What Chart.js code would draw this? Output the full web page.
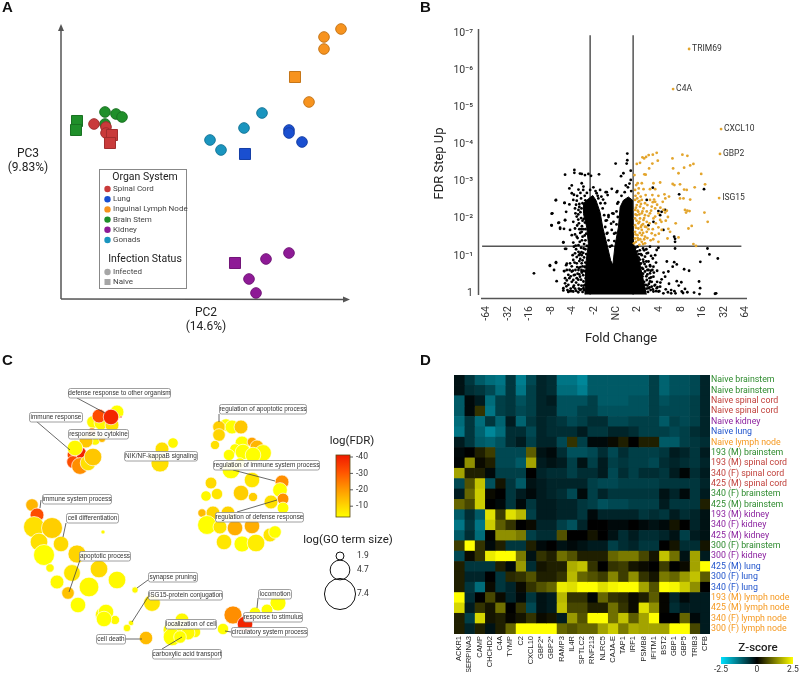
<!DOCTYPE html>
<html>
<head>
<meta charset="utf-8">
<title>Panels A-D</title>
<style>
  body { margin: 0; background: #fff; }
  canvas { position: absolute; left: 0; top: 0; }
</style>
<script src="https://cdn.jsdelivr.net/npm/chart.js@4"></script>
</head>
<body>
<canvas id="pca" width="800" height="674"></canvas>
<canvas id="volcano" width="800" height="674"></canvas>
<canvas id="network" width="800" height="674"></canvas>
<canvas id="heatmap" width="800" height="674"></canvas>
<script>
// A: PCA scores, [PC2, PC3] in plot units
const organNames = ["Spinal Cord", "Lung", "Inguinal Lymph Node", "Brain Stem", "Kidney", "Gonads"]
const organColors = ["#c93a3a", "#1a4fd0", "#f7931e", "#1f8f2a", "#8e1a96", "#1a95bf"]
const infectedScores = [
  [[33, 175], [45, 172], [45, 166]],
  [[228, 169], [228, 166], [241, 157]],
  [[280, 270], [263, 262], [263, 250], [248, 197]],
  [[44, 187], [55, 185], [61, 182], [44, 175]],
  [[228, 46], [205, 40], [188, 20], [195, 6]],
  [[201, 186], [183, 171], [149, 159], [160, 149]]
]
const naiveScores = [
  [[51, 164], [49, 156]],
  [[184, 145]],
  [[234, 222]],
  [[16, 178], [15, 169]],
  [[174, 36]],
  []
]

// B: volcano, x = signed doublings of fold change, y = -log10(FDR)
const foldLabels = ["-64", "-32", "-16", "-8", "-4", "-2", "NC", "2", "4", "8", "16", "32", "64"]
const foldTicks = [-6, -5, -4, -3, -2, -1, 0, 1, 2, 3, 4, 5, 6]
const fdrLabels = ["1", "10⁻¹", "10⁻²", "10⁻³", "10⁻⁴", "10⁻⁵", "10⁻⁶", "10⁻⁷"]
const fdrTicks = [0, 1, 2, 3, 4, 5, 6, 7]
const foldCutoffs = [-1.2, 0.79]
const fdrCutoff = 1.26
const namedGenes = ["TRIM69", "C4A", "CXCL10", "GBP2", "ISG15"]
const namedFold = [3.38, 2.64, 4.86, 4.81, 4.77]
const namedFdr = [6.58, 5.5, 4.42, 3.75, 2.56]
const upGenes = [[1.88,3.78],[1.70,3.73],[1.51,3.72],[1.39,3.67],[1.30,3.63],[1.22,3.66],[1.93,3.57],[1.68,3.49],[1.53,3.36],[1.11,3.51],[0.96,3.48],[2.61,3.63],[3.07,3.73],[3.30,3.70],[3.58,3.48],[3.43,3.44],[3.15,3.38],[2.64,3.36],[2.89,3.23],[3.94,3.21],[0.85,3.18],[1.31,3.20],[1.37,3.19],[2.04,2.98],[1.73,2.96],[1.19,2.96],[1.00,2.96],[0.93,2.91],[1.05,2.82],[1.27,2.80],[1.57,2.80],[1.81,2.80],[2.62,2.94],[2.70,2.91],[2.96,2.93],[3.15,2.79],[3.27,2.78],[3.64,2.85],[4.12,2.93],[0.88,2.78],[1.03,2.69],[1.14,2.60],[1.37,2.64],[1.68,2.64],[1.96,2.62],[2.24,2.66],[2.45,2.60],[2.96,2.55],[3.12,2.55],[3.43,2.52],[0.88,2.51],[1.03,2.46],[1.19,2.51],[1.34,2.42],[1.57,2.51],[1.76,2.52],[1.81,2.46],[2.16,2.46],[2.28,2.55],[0.96,2.37],[1.11,2.33],[1.27,2.28],[1.45,2.37],[1.65,2.33],[1.81,2.28],[2.19,2.24],[2.35,2.22],[3.19,2.24],[3.30,2.22],[3.40,2.21],[4.09,2.17],[3.24,2.17],[0.88,2.24],[1.03,2.19],[1.19,2.15],[1.34,2.10],[1.57,2.15],[1.81,2.06],[1.96,2.15],[2.27,2.17],[0.96,2.10],[1.11,2.01],[1.27,1.97],[1.42,1.92],[1.73,2.01],[1.84,1.88],[2.04,1.97],[2.76,1.88],[4.24,1.92],[3.50,1.81],[3.35,1.74],[1.96,1.77],[2.11,1.70],[2.42,1.73],[2.50,1.65],[0.88,2.01],[1.03,1.88],[1.19,1.83],[1.34,1.79],[0.88,1.83],[1.03,1.74],[1.19,1.70],[1.42,1.65],[1.65,1.61],[1.81,1.56],[2.38,1.47],[2.89,1.50],[1.96,1.38],[0.88,1.65],[0.99,1.56],[1.19,1.56],[1.34,1.52],[0.88,1.47],[1.03,1.43],[1.19,1.38],[0.83,1.34],[3.58,1.32],[3.70,1.27],[1.34,1.34],
  [0.9,2.62],[0.98,2.55],[1.08,2.48],[1.15,2.4],[0.92,2.3],[1.0,2.22],[1.08,2.12],[1.22,2.2],[1.3,2.02],[1.42,2.2],[1.5,2.08],[0.9,2.12],[0.95,1.95],[1.08,1.92],[1.15,1.78],[1.25,1.86],[1.4,1.78],[1.5,1.72],[1.55,1.88],[0.92,1.76],[1.1,1.62],[1.25,1.62],[1.3,1.45],[1.45,1.48],[0.9,1.58],[1.0,1.48],[1.12,1.45],[0.92,1.38],[1.08,1.3],[1.25,1.32],[1.6,1.42],[1.7,1.72],[1.72,1.45],[1.62,2.22],[1.7,2.45],[1.9,2.38],[2.05,2.3],[2.1,1.92],[2.3,1.95],[2.4,2.05],[1.98,1.6]]
const otherGenes = [[0.52,3.76],[-0.02,3.49],[0.52,3.58],[0.49,3.49],[0.34,3.23],[0.23,3.15],[0.68,3.30],[0.06,2.75],[1.70,2.84],[2.92,2.66],[4.07,2.80],[1.42,2.51],[1.96,2.21],[2.11,2.19],[2.04,2.10],[2.27,2.24],[1.73,1.92],[1.50,1.83],[2.69,1.52],[2.73,1.46],[2.19,1.70],[2.73,1.38],[4.23,1.20],[4.32,1.04],[4.71,0.93],[3.90,0.84],[2.73,1.20],[1.96,1.22],[1.88,1.16],[1.57,1.25],[1.81,1.02],[1.70,0.93],[1.57,0.75],[1.73,0.71],[2.69,0.83],[2.81,0.77],[2.62,0.71],[3.15,0.64],[3.38,0.60],[2.42,0.58],[2.27,0.44],[2.11,0.37],[2.81,0.32],[3.02,0.29],[3.84,0.31],[3.89,0.13],[3.61,0.01],[3.86,-0.03],[4.58,-0.02],[4.63,-0.01],[2.55,0.08],[2.55,-0.01],[2.75,-0.01],[3.04,0.04],[3.19,0.11],[1.57,0.53],[1.73,0.44],[1.57,0.31],[1.81,0.22],[2.04,0.17],[1.42,0.35],[1.27,0.22],[1.50,0.13],[1.73,0.04],[1.96,0.04],[2.19,-0.01],[1.34,0.04],[1.19,1.02],[1.27,0.84],[1.39,0.71],[1.42,1.07],[1.34,0.58],[1.19,0.53],[1.65,0.17],[1.88,0.13],[1.50,0.62],[1.34,0.98],[1.30,0.30],[1.45,0.20],[1.60,0.08],[1.20,0.10],[1.40,0.45],[1.55,0.40],[1.25,0.65],[1.40,0.85],[1.15,0.80],[1.10,0.90],[1.85,0.05],[1.30,1.15],[1.25,1.20],[1.10,1.15],[1.00,1.25],[1.05,1.05],
  [-2.36,3.19],[-1.93,3.32],[-1.93,3.24],[-1.67,3.22],[-1.59,3.21],[-1.44,3.18],[-1.28,3.21],[-1.16,3.16],[-0.79,3.20],[-2.05,2.90],[-2.16,2.82],[-2.05,2.69],[-1.74,2.79],[-1.59,2.96],[-1.51,2.87],[-2.78,2.51],[-2.39,2.43],[-2.16,2.39],[-1.98,2.51],[-1.82,2.49],[-0.48,2.72],[-0.74,2.78],[-0.90,2.69],[-2.95,2.15],[-2.31,2.19],[-1.90,2.28],[-1.74,2.24],[-2.64,1.90],[-2.99,1.83],[-2.36,1.97],[-2.59,1.76],[-2.41,1.73],[-2.13,1.70],[-1.98,1.92],[-1.82,2.06],[-1.90,1.74],[-2.05,1.56],[-1.82,1.52],[-1.59,1.65],[-1.98,1.36],[-2.44,1.37],[-2.31,1.19],[-1.74,1.29],[-3.06,0.75],[-2.78,0.83],[-2.87,0.62],[-3.80,0.53],[-2.75,0.32],[-2.31,0.75],[-2.41,0.59],[-2.28,0.62],[-2.13,0.80],[-2.01,1.02],[-1.90,1.07],[-1.74,1.11],[-1.59,1.02],[-1.98,0.89],[-1.82,0.80],[-2.21,0.49],[-2.36,0.40],[-2.16,0.40],[-2.36,0.26],[-2.21,0.22],[-2.44,0.13],[-2.25,0.08],[-2.13,0.05],[-1.98,0.04],[-1.90,0.49],[-1.74,0.62],[-1.59,0.80],[-2.05,0.58],[-1.98,0.35],[-1.82,0.40],[-1.74,0.22],[-1.67,0.08],[-1.51,0.13],[-1.36,0.04],[-1.67,0.44],[-1.59,0.58],[-1.44,0.71],[-1.51,0.31],[-0.35,2.10],[-0.17,2.15],[-0.12,1.92],[-0.20,1.70],[-0.51,2.42],[-0.39,2.64],
  [-0.43,2.72],[-0.20,2.81],[0.03,2.72],[-0.12,2.14],[-0.35,2.05],[-0.23,1.87],[-0.09,1.60],[-0.43,1.60],[-0.20,1.28],[0.06,2.41],[0.34,2.32],[-0.43,1.96],[-2.79,2.50],[-2.98,2.14],[-2.38,2.43],[-2.98,1.82],[-2.67,1.89],[-2.36,1.96],[-2.59,1.73],[-2.44,1.36],[-2.36,1.19],[-1.87,1.28],[-3.06,0.73],[-2.78,0.81],[-2.39,0.59],[-2.28,0.34],[-2.44,0.07],[-2.21,0.03],[-1.98,0.16],[-2.28,0.79],[-1.82,0.97],[-1.67,1.06],
  [-1.45,2.62],[-1.35,2.7],[-1.2,2.78],[-1.05,2.85],[-0.95,2.75],[-0.85,2.62],[-1.62,2.55],[-1.7,2.4],[-1.6,2.28],[-1.75,2.12],[-1.62,2.02],[-1.72,1.88],[-1.58,1.8],[-1.66,1.62],[-1.52,1.72],[-1.45,1.55],[-1.58,1.42],[-1.48,1.32],[-1.62,1.22],[-1.42,1.18],[-1.52,1.08],[-1.66,0.92],[-1.48,0.96],[-1.42,0.82],[-1.55,0.72],[-1.72,0.68],[-1.42,0.58],[-1.52,0.48],[-1.62,0.36],[-1.4,0.4],[-1.78,0.52],[-1.88,0.62],[-1.95,0.48],[-1.85,0.28],[-1.95,0.2],[-1.72,0.12],[-1.6,0.2],[-1.42,0.22],[-1.28,0.15],[-1.55,0.03],[-1.85,0.06],[-1.75,0.02],[-2.05,0.3],[-2.1,0.12],[-2.3,0.18],[-2.15,0.62],[-2.05,0.72],[-1.92,0.82],[-1.7,0.86],[-1.72,1.02],[-1.85,1.18],[-1.95,1.25],[-1.68,1.38],[-1.78,1.48],[-1.9,1.58],[-1.7,1.72],[-1.8,1.82],[-1.75,1.98],[-1.88,2.15],[-1.65,2.18],[-1.7,2.32],[-1.55,2.42],[-1.85,2.38],[-1.95,2.65],[-1.8,2.62],[-1.65,2.7],[-1.52,2.78],[-1.42,2.5],[-0.82,2.55],[-0.72,2.42],[-0.62,2.28],[-0.55,2.1],[-0.48,1.95],[-0.5,1.78],[-0.4,1.62],[-0.35,1.42],[-0.28,1.25],[-0.6,2.52],[-0.68,2.6],
  [-1.5,2.0],[-1.44,1.9],[-1.42,1.72],[-1.38,1.6],[-1.42,1.42],[-1.35,1.27],[-1.38,1.05],[-1.45,0.7],[-1.5,0.6],[-1.58,0.55],[-1.65,0.7],[-1.7,0.5],[-1.6,0.62],[-1.8,0.7],[-1.75,0.36],[-1.62,0.1],[-1.5,0.2],[-1.48,0.08],[-1.9,0.12],[-2.0,0.6],[-2.1,0.45],[-2.05,0.05],[-1.55,0.88],[-1.6,1.1],[-1.5,1.2],[-1.55,1.52],[-1.62,1.72],[-1.55,1.95],
  [0.1,2.45],[0.02,2.2],[0.08,2.05],[0.02,1.85],[-0.02,1.62],[-0.08,1.4],[0.25,2.62],[0.4,2.72],[0.55,2.85],[0.62,2.95],[0.7,2.75],[0.45,2.9],[0.68,3.05],[0.9,1.22],[0.98,1.12],[1.05,0.95],[1.12,0.78],[1.2,0.68],[1.22,0.45],[1.3,0.12],[1.38,0.22],[1.48,0.03],[1.25,0.9],[1.15,1.05],
  [1.55,0.15],[1.65,0.3],[1.7,0.1],[1.45,0.5],[1.6,0.6],[1.75,0.55],[1.9,0.3],[2.0,0.05],[2.05,0.28],[2.3,0.1],[2.4,0.02],[1.5,0.85],[1.62,1.0],[1.4,1.18],[1.48,1.08],[1.85,0.82],[1.9,0.6],[2.2,0.55],[2.45,0.25],[2.7,0.05],[2.9,0.2],[3.1,0.0],[3.3,0.02],[2.35,0.85],
  [1.42,0.12],[1.52,0.25],[1.62,0.42],[1.45,0.62],[1.32,0.78],[1.58,0.72],[1.78,0.2],[1.92,0.16],[1.68,0.62],[1.25,0.52]]
// too many overlapping genes to read one by one: outline of the solid black V
const denseOutline = [[-1.44,-0.04],[-1.42,0.43],[-1.38,0.88],[-1.28,1.33],[-1.36,1.78],[-1.51,2.14],[-1.51,2.41],[-1.28,2.54],[-1.08,2.63],[-0.93,2.50],[-0.74,2.18],[-0.62,1.78],[-0.43,1.33],[-0.25,0.88],[-0.15,0.75],[-0.05,1.28],[0.11,1.78],[0.19,2.32],[0.34,2.50],[0.57,2.59],[0.77,2.50],[0.80,1.33],[1.03,0.97],[1.2,0.52],[1.4,-0.04]]

// C: GO term network, layout position, log(term size), log(FDR)
const goX = [93,117,101,112,92,99,111,121,95,102,80,72,73,86,75,80,88,93,152,162,173,160,32,37,34,52,39,44,61,77,50,72,99,57,68,89,117,78,103,135,131,127,152,115,103,106,104,146,170,182,195,177,188,172,180,226,219,219,232,241,215,242,252,257,235,263,243,229,253,231,240,252,282,280,283,271,283,211,206,217,241,253,202,213,228,207,220,235,252,224,242,256,270,275,278,267,255,233,245,223]
const goY = [422,412,423,425,432,416,417,417,440,439,453,455,462,441,448,466,463,457,457,449,443,463,505,515,527,528,542,555,544,554,568,573,569,582,593,587,580,605,532,590,623,628,603,620,615,612,619,638,630,620,632,628,633,637,637,425,427,435,427,427,445,443,442,447,449,453,452,455,455,470,463,480,482,490,499,502,508,483,496,494,493,497,513,513,513,525,527,528,526,542,544,543,535,532,603,610,613,615,624,629]
const goSize = [3,3.3,3.3,3.3,2,3.3,3.7,0.5,2.5,1.7,3,2.3,3,3.3,3.7,4,3.7,4.2,1.7,3.3,2.5,4.3,3,3.3,5,5,4.2,5,3.7,4.3,2,4,4.2,3.3,3,4.7,4.2,3.7,1,1.5,1.3,1.8,4,2.2,3.7,3.7,3.7,3.2,3.3,3.3,2.7,3.7,3.3,4.2,3,3,3,3,3.3,3.3,2.2,3.3,2.3,3.3,2.5,4,3.7,2.7,3.7,4.2,2.5,3.7,3.3,3.5,2.8,3.3,2.8,2.8,2.5,2.7,3.7,2.2,2,3.3,3.3,4.5,3.3,3.7,3.7,3.7,3.8,4.2,3.3,3,3.8,2.8,2.8,4.3,3.7,2.7]
const goFdr = [-4,-3,-4,-8,-21,-31,-38,-38,-4,-14,-38,-31,-31,-12,-4,-21,-8,-12,-8,-8,-4,-8,-15,-31,-8,-11,-8,-3,-9,-10,-4,-7,-9,-4,-13,-4,-4,-3,-4,-4,-4,-4,-7,-4,-4,-3,-3,-14,-4,-4,-4,-3,-4,-3,-3,-3,-11,-10,-3,-12,-8,-3,-18,-15,-3,-4,-3,-3,-3,-3,-3,-7,-21,-3,-21,-8,-3,-9,-4,-7,-11,-11,-14,-10,-10,-3,-7,-16,-16,-7,-3,-6,-7,-3,-3,-3,-3,-21,-38,-3]
const legendSizes = [1.9, 4.7, 7.4]
const legendSizeX = [340, 340, 340]
const legendSizeY = [556, 570, 594]
const fdrStops = [-3, -10, -20, -30, -40]
const fdrStopColors = [[255, 255, 0], [255, 212, 0], [255, 149, 0], [255, 82, 0], [240, 26, 0]]
const fdrBarTicks = [-40, -30, -20, -10]
const goTerms = [
  ["defense response to other organism", 68, 388, 102, 77, 398, 105, 413],
  ["immune response", 29, 412, 53, 36, 421, 70, 450],
  ["response to cytokine", 68, 429, 60],
  ["NIK/NF-kappaB signaling", 124, 451, 73],
  ["immune system process", 42, 494, 69, 41, 500, 40, 508],
  ["cell differentiation", 66, 513, 52, 66, 523, 63, 537],
  ["apoptotic process", 79, 551, 51, 80, 560, 69, 592],
  ["synapse pruning", 148, 572, 49, 148, 580, 137, 588],
  ["ISG15-protein conjugation", 148, 590, 74, 148, 597, 132, 622],
  ["localization of cell", 165, 619, 51],
  ["cell death", 96, 634, 29, 125, 639, 142, 639],
  ["carboxylic acid transport", 152, 649, 69, 162, 649, 182, 637],
  ["regulation of apoptotic process", 219, 404, 87, 219, 414, 219, 422],
  ["regulation of immune system process", 213, 460, 106, 233, 470, 275, 481],
  ["regulation of defense response", 215, 512, 88, 237, 512, 277, 500],
  ["locomotion", 258, 589, 33, 258, 598, 257, 608],
  ["response to stimulus", 243, 612, 59],
  ["circulatory system process", 231, 627, 76, 231, 632, 225, 631]
]

// D: heatmap, rows top to bottom, columns left to right
const geneNames = ["ACKR1", "SERPINA3", "CAMP", "CHCHD2", "C4A", "TYMP", "C2", "CXCL10", "GBP2*", "GBP2*", "RAMP3", "IL4R", "SPTLC2", "RNF213", "NLRC5", "CAJA-E", "TAP1", "IRF1", "PSMB8", "IFITM1", "BST2", "GBP1", "GBP5", "TRIB3", "CFB"]
const sampleNames = ["Naive brainstem", "Naive brainstem", "Naive spinal cord", "Naive spinal cord", "Naive kidney", "Naive lung", "Naive lymph node", "193 (M) brainstem", "193 (M) spinal cord", "340 (F) spinal cord", "425 (M) spinal cord", "340 (F) brainstem", "425 (M) brainstem", "193 (M) kidney", "340 (F) kidney", "425 (M) kidney", "300 (F) brainstem", "300 (F) kidney", "425 (M) lung", "300 (F) lung", "340 (F) lung", "193 (M) lymph node", "425 (M) lymph node", "340 (F) lymph node", "300 (F) lymph node"]
const sampleTissue = [3, 3, 0, 0, 4, 1, 2, 3, 0, 0, 0, 3, 3, 4, 4, 4, 3, 4, 1, 1, 1, 2, 2, 2, 2]
const zScores = [
  [-0.2,-0.6,-1.0,-1.2,-1.3,-0.6,-1.4,-0.8,-0.4,-0.5,-1.3,-1.3,-1.5,-1.0,-1.0,-1.0,-1.0,-1.0,-1.0,-0.7,-1.1,-0.9,-0.9,-0.8,-0.4],
  [-0.2,-0.5,-0.6,-0.8,-1.2,-0.6,-1.3,-0.7,-0.4,-0.5,-1.2,-1.2,-1.4,-1.0,-1.0,-1.0,-1.0,-1.0,-1.0,-0.7,-1.1,-0.9,-0.9,-0.8,-0.4],
  [-1.0,-0.1,-0.3,-1.2,-0.7,-0.6,-0.9,-0.7,-0.4,-0.3,-0.9,-0.9,-0.9,-0.7,-1.0,-1.0,-1.0,-0.9,-0.9,-0.7,-0.9,-0.8,-0.8,-0.7,-0.4],
  [-1.0,-0.1,0.5,-1.3,-0.7,-0.6,-0.8,-0.7,-0.4,-0.4,-0.9,-0.9,-0.7,-0.7,-0.9,-0.9,-0.9,-0.9,-0.9,-0.7,-0.8,-0.8,-0.8,-0.7,-0.4],
  [-1.2,-0.6,-1.2,-0.6,-1.1,-0.3,-1.1,-0.6,-0.4,-0.5,-0.6,-0.8,-0.7,-0.5,-0.5,-0.8,-0.8,-0.7,-0.7,-0.7,-1.0,-0.7,-0.8,-0.7,-0.4],
  [-1.3,-0.6,-1.1,-1.5,-1.2,-0.5,-0.5,-0.8,-0.4,-0.5,-0.5,-0.5,-0.3,-0.6,-0.6,-0.4,-0.4,-0.5,-0.7,-0.7,-0.7,-0.8,-0.7,-0.5,-0.4],
  [-0.3,-0.6,-1.0,-1.1,-0.9,-0.5,-0.3,-0.7,-0.4,-0.4,-0.8,0.5,-0.7,-0.1,-0.1,0.1,0.3,0,0.3,0.3,-1.0,-1.0,-0.7,-0.6,-0.5],
  [-0.1,0,0.3,0.6,-0.8,-0.8,-0.8,0.9,-0.2,-0.1,-0.5,-0.9,-0.9,-0.8,-0.5,-0.8,-0.5,-0.7,-0.7,-0.7,-0.6,-0.3,-0.4,-0.6,-0.3],
  [-0.05,1.4,0.1,0.3,-0.8,-0.8,-1.0,1.6,-0.3,-0.2,-0.3,-0.7,-0.2,-0.7,-0.3,-0.7,-0.6,-0.7,-0.7,-0.8,-0.5,-0.4,-0.5,-0.6,-0.4],
  [1.6,0.3,0.3,-0.1,-0.7,-0.7,-0.7,0,-0.4,-0.5,-0.5,-0.7,-0.5,-0.5,-0.3,-0.8,-0.5,-0.7,-0.5,-0.5,-0.6,-0.3,-0.05,-0.5,-0.3],
  [-0.8,0.8,1.9,-0.9,0.2,-0.6,-1.0,-0.2,-0.3,-0.4,-0.4,-0.4,-0.4,-0.7,-0.8,-0.8,-0.7,-0.7,-0.7,-0.7,-0.6,-0.6,-0.6,-0.6,-0.4],
  [-0.3,1.0,2.0,0.1,0,-0.6,-0.3,-0.1,-0.3,-0.4,-0.5,-0.8,-0.1,-0.7,-0.4,-0.6,-0.6,-0.6,-0.6,-0.6,-0.2,-0.4,-0.1,-0.6,-0.3],
  [1.0,0.7,2.0,0,-0.1,-0.6,-0.1,-0.6,-0.3,-0.3,-0.4,-0.4,-0.6,-0.7,-0.9,-0.8,-0.8,-0.7,-0.7,-0.7,-0.3,-0.6,-0.6,-0.6,0.3],
  [-1.0,-0.5,-1.0,2.2,0.6,2.2,1.8,-0.7,-0.3,-0.3,-0.4,-0.4,-0.6,-0.1,-0.4,-0.4,-0.4,-0.4,-0.6,-0.5,-0.6,-0.3,-0.5,-0.4,-0.2],
  [-1.3,-0.6,-1.3,2.0,0.9,0.5,0,0.1,-0.4,-0.4,-0.7,-0.9,-0.4,0,0,-0.1,-0.1,0,-0.1,-0.2,-0.1,0.2,0,-0.4,-0.2],
  [-1.0,-0.5,-1.2,0,1.4,1.4,1.2,-0.7,-0.5,-0.5,0.8,0,0,0.2,0,-0.2,-0.5,-0.3,-0.5,-0.5,-0.4,-0.2,-0.7,-0.3,-0.2],
  [0.6,2.5,0.5,-0.1,0.3,-0.6,-0.6,0.3,-0.1,0,-0.2,-0.1,-0.2,-0.3,-0.3,-0.7,-0.5,-0.4,-0.6,-0.6,0,0.2,-0.5,-0.5,0.2],
  [-0.8,0.1,0.5,2.3,2.5,2.5,1.2,-0.2,0.5,0.3,1.1,0.8,0.3,0.3,0.3,1.0,1.2,1.2,0.7,0.2,1.9,1.1,-0.2,1.6,-0.3],
  [0.3,-0.6,-0.6,-0.6,0.3,-0.1,1.5,-0.5,0.2,0.3,0.3,1.7,1.9,0.5,0,0.5,0.6,0.2,0.1,0,0.6,0,0.1,1.6,2.5],
  [0.3,-0.4,-0.4,0,-0.6,0.4,0.5,0.8,0.3,0.3,0.5,1.8,1.0,0.8,0.6,1.3,0.6,1.4,0.5,0.2,1.2,1.0,1.5,1.9,0.9],
  [0.3,-0.6,-1.2,0.1,-0.6,-0.4,0.1,0.5,0.8,1.0,2.3,2.2,2.5,2.5,2.2,2.4,2.5,2.5,1.6,0.8,2.5,2.4,2.0,1.4,0],
  [2.5,-0.5,0,0.7,0.1,-0.4,-0.1,-0.6,-0.2,-0.3,1.8,0.5,0.5,-0.05,1.0,0.5,0.4,0.1,0.3,0.9,0.05,-0.4,-0.1,-0.3,-0.3],
  [2.1,-0.3,0.5,0.2,1.1,0,0.5,-0.8,-0.2,-0.3,1.9,0.7,0.7,0.3,0.3,1.1,0.5,0.1,2.2,1.4,0.05,-0.5,-0.3,-0.3,-0.3],
  [0.3,-0.7,2.1,0.2,0.3,0.05,0.2,0.5,0.1,0.2,-0.3,1.5,0.8,2.5,2.5,1.1,1.9,0.9,1.6,2.5,0,0,1.0,-0.1,-0.3],
  [0.3,-0.4,0.3,-0.2,0.3,1.0,2.5,2.5,2.5,2.5,1.0,0.8,1.0,1.0,1.6,2.0,1.2,1.7,1.6,1.6,1.6,2.5,2.5,0.7,-0.3]
]

const ROBOTO = "Roboto, sans-serif"
const ARIAL = "'Liberation Sans', sans-serif"

const label = (ctx, str, x, y, font, color = "#222", align = "center") => {
  ctx.font = font
  ctx.fillStyle = color
  ctx.textAlign = align
  ctx.textBaseline = "middle"
  ctx.fillText(str, x, y)
}

const line = (ctx, x1, y1, x2, y2, color = "#555", width = 1.5) => {
  ctx.strokeStyle = color
  ctx.lineWidth = width
  ctx.beginPath()
  ctx.moveTo(x1, y1)
  ctx.lineTo(x2, y2)
  ctx.stroke()
}

const arrowHead = (ctx, x1, y1, x2, y2, x3, y3) => {
  ctx.fillStyle = "#555"
  ctx.beginPath()
  ctx.moveTo(x1, y1)
  ctx.lineTo(x2, y2)
  ctx.lineTo(x3, y3)
  ctx.fill()
}

const panelLetter = (ctx, letter, x, y) => label(ctx, letter, x, y, `bold 15px ${ARIAL}`, "#111", "left")

const baseOptions = (padding) => ({
  responsive: false,
  animation: false,
  layout: { padding, autoPadding: false },
  plugins: { legend: { display: false }, tooltip: { enabled: false } }
})

const darker = (hex) => `color-mix(in srgb, ${hex} 80%, black)`

// Panel A
const pcaDatasets = organColors.flatMap((color, i) => [
  { data: naiveScores[i].map(([x, y]) => ({ x, y })), clip: false, pointStyle: "rect", pointRadius: 7.8, backgroundColor: color, borderColor: darker(color), borderWidth: 1 },
  { data: infectedScores[i].map(([x, y]) => ({ x, y })), clip: false, pointStyle: "circle", pointRadius: 5.3, backgroundColor: color, borderColor: darker(color), borderWidth: 1 }
])

const pcaDecor = {
  id: "pcaDecor",
  afterDraw: ({ ctx }) => {
    panelLetter(ctx, "A", 2, 8)
    line(ctx, 61, 299, 61, 30)
    arrowHead(ctx, 61, 24, 58, 31, 64, 31)
    line(ctx, 61, 299, 344, 299.5)
    arrowHead(ctx, 350, 299.5, 343, 296.5, 343, 302.5)
    label(ctx, "PC3", 28, 154, `12px ${ROBOTO}`)
    label(ctx, "(9.83%)", 28, 168, `12px ${ROBOTO}`)
    label(ctx, "PC2", 206, 313, `12px ${ROBOTO}`)
    label(ctx, "(14.6%)", 206, 327, `12px ${ROBOTO}`)

    ctx.strokeStyle = "#888"
    ctx.lineWidth = 1
    ctx.strokeRect(99.5, 169.5, 87, 119)
    label(ctx, "Organ System", 145, 177, `10.5px ${ROBOTO}`)
    organNames.forEach((name, i) => {
      const y = 189 + i * 10.2
      ctx.fillStyle = organColors[i]
      ctx.beginPath()
      ctx.arc(107.5, y, 3.2, 0, Math.PI * 2)
      ctx.fill()
      label(ctx, name, 113, y, `8px ${ROBOTO}`, "#444", "left")
    })
    label(ctx, "Infection Status", 145, 259, `10.5px ${ROBOTO}`)
    ctx.fillStyle = "#a6a6a6"
    ctx.beginPath()
    ctx.arc(107.5, 272, 3.2, 0, Math.PI * 2)
    ctx.fill()
    ctx.fillRect(104.5, 279, 6, 6)
    label(ctx, "Infected", 113, 272, `8px ${ROBOTO}`, "#444", "left")
    label(ctx, "Naive", 113, 282, `8px ${ROBOTO}`, "#444", "left")
  }
}

new Chart(document.getElementById("pca"), {
  type: "scatter",
  data: { datasets: pcaDatasets },
  options: {
    ...baseOptions({ left: 61, right: 451, top: 25, bottom: 375 }),
    scales: {
      x: { display: false, min: 0, max: 288 },
      y: { display: false, min: 0, max: 274 }
    }
  },
  plugins: [pcaDecor]
})

// Panel B
const toPoints = (pairs) => pairs.map(([x, y]) => ({ x, y }))
const cutoffLine = { showLine: true, borderColor: "#555", borderWidth: 1.5, pointRadius: 0 }

const volcanoDecor = {
  id: "volcanoDecor",
  afterDraw: (chart) => {
    const { ctx } = chart
    panelLetter(ctx, "B", 420, 8)
    line(ctx, 478.5, 29, 478.5, 295)
    line(ctx, 481, 298.5, 747, 298.5)
    label(ctx, "Fold Change", 621, 339, `13px ${ROBOTO}`)
    chart.getDatasetMeta(0).data.forEach((point, i) => {
      label(ctx, namedGenes[i], point.x + 3, point.y, `8.5px ${ROBOTO}`, "#333", "left")
    })
  }
}

new Chart(document.getElementById("volcano"), {
  type: "scatter",
  data: {
    datasets: [
      { data: namedGenes.map((_, i) => ({ x: namedFold[i], y: namedFdr[i] })), pointRadius: 1.4, pointBorderWidth: 0, backgroundColor: "#e3a52d" },
      { data: toPoints(upGenes), pointRadius: 1.4, pointBorderWidth: 0, backgroundColor: "#e3a52d" },
      { data: toPoints(otherGenes), pointRadius: 1.4, pointBorderWidth: 0, backgroundColor: "#000" },
      { data: toPoints(denseOutline), showLine: true, fill: "shape", pointRadius: 0, borderColor: "#000", borderWidth: 1, backgroundColor: "#000" },
      { ...cutoffLine, data: [{ x: foldCutoffs[0], y: 6.95 }, { x: foldCutoffs[0], y: -0.05 }] },
      { ...cutoffLine, data: [{ x: foldCutoffs[1], y: 6.95 }, { x: foldCutoffs[1], y: -0.05 }] },
      { ...cutoffLine, data: [{ x: -6.2, y: fdrCutoff }, { x: 5.8, y: fdrCutoff }] }
    ]
  },
  options: {
    ...baseOptions({ left: 432, right: 53, top: 29, bottom: 325 }),
    scales: {
      x: {
        min: -6.39,
        max: 6.06,
        grid: { display: false, drawTicks: false },
        border: { display: false },
        afterFit: (scale) => { scale.height = 51 },
        afterBuildTicks: (scale) => { scale.ticks = foldTicks.map((value) => ({ value })) },
        ticks: {
          autoSkip: false,
          minRotation: 90,
          maxRotation: 90,
          padding: 8,
          color: "#333",
          font: { family: ROBOTO, size: 10.5 },
          callback: (value, index) => foldLabels[index]
        }
      },
      y: {
        min: -0.135,
        max: 7.12,
        grid: { display: false, drawTicks: false },
        border: { display: false },
        afterFit: (scale) => { scale.width = 46 },
        afterBuildTicks: (scale) => { scale.ticks = fdrTicks.map((value) => ({ value })) },
        ticks: {
          autoSkip: false,
          padding: 5,
          color: "#333",
          font: { family: ROBOTO, size: 10.5 },
          callback: (value, index) => fdrLabels[index]
        },
        title: { display: true, text: "FDR Step Up", color: "#222", padding: 0, font: { family: ROBOTO, size: 13 } }
      }
    }
  },
  plugins: [volcanoDecor]
})

// Panel C
const fdrColor = (value) => {
  const v = Math.min(-3, Math.max(-40, value))
  let i = 0
  while (i < fdrStops.length - 2 && v < fdrStops[i + 1]) i++
  const t = (fdrStops[i] - v) / (fdrStops[i] - fdrStops[i + 1])
  const mix = fdrStopColors[i].map((c, k) => Math.round(c + (fdrStopColors[i + 1][k] - c) * t))
  return `rgb(${mix.join(",")})`
}
const sizeToRadius = (size) => size * 2.1

const networkDecor = {
  id: "networkDecor",
  afterDraw: ({ ctx }) => {
    panelLetter(ctx, "C", 2, 361)
    goTerms.forEach(([text, x, y, w, x1, y1, x2, y2]) => {
      if (x1 !== undefined) line(ctx, x1, y1, x2, y2, "#444", 0.8)
      ctx.beginPath()
      ctx.roundRect(x + 0.5, y + 0.5, w, 9.5, 2)
      ctx.fillStyle = "rgba(255,255,255,0.92)"
      ctx.fill()
      ctx.strokeStyle = "#888"
      ctx.lineWidth = 0.8
      ctx.stroke()
      label(ctx, text, x + 0.5 + w / 2, y + 5.5, `6.4px ${ARIAL}`, "#333")
    })

    label(ctx, "log(FDR)", 352, 441, `11.5px ${ROBOTO}`)
    const bar = ctx.createLinearGradient(0, 517, 0, 455)
    fdrStops.forEach((stop) => bar.addColorStop((stop + 3) / -37, fdrColor(stop)))
    ctx.fillStyle = bar
    ctx.fillRect(336, 455, 14, 62)
    ctx.strokeStyle = "#5a4a10"
    ctx.lineWidth = 0.8
    ctx.strokeRect(336, 455, 14, 62)
    fdrBarTicks.forEach((tick, i) => {
      const y = 457 + i * 16.4
      line(ctx, 350, y, 353, y, "#333", 0.8)
      label(ctx, String(tick), 356, y, `8.5px ${ROBOTO}`, "#333", "left")
    })
    label(ctx, "log(GO term size)", 348, 540, `11.5px ${ROBOTO}`)
    legendSizes.forEach((size, i) => {
      label(ctx, size.toFixed(1), 357, legendSizeY[i], `8.5px ${ROBOTO}`, "#333", "left")
    })
  }
}

new Chart(document.getElementById("network"), {
  type: "bubble",
  data: {
    datasets: [
      { data: legendSizes.map((size, i) => ({ x: legendSizeX[i], y: legendSizeY[i], r: sizeToRadius(size) })), backgroundColor: "transparent", borderColor: "#111", borderWidth: 1 },
      { data: goX.map((x, i) => ({ x, y: goY[i], r: sizeToRadius(goSize[i]) })), backgroundColor: goFdr.map(fdrColor), borderColor: "rgba(255,255,255,0.85)", borderWidth: 0.8 }
    ]
  },
  options: {
    ...baseOptions(0),
    scales: {
      x: { display: false, min: 0, max: 800 },
      y: { display: false, min: 0, max: 674, reverse: true }
    }
  },
  plugins: [networkDecor]
})

// Panel D
const tissueColors = ["#c0413b", "#2255cc", "#f59a23", "#2e8b2e", "#8a1f9e"]
const zColor = (z) => {
  const t = Math.min(1, Math.abs(z) / 2.5)
  return z >= 0
    ? `rgb(${Math.round(255 * t)},${Math.round(255 * t)},0)`
    : `rgb(0,${Math.round(225 * t)},${Math.round(255 * t)})`
}

const heatmapDecor = {
  id: "heatmapDecor",
  afterDraw: ({ ctx }) => {
    panelLetter(ctx, "D", 420, 361)
    label(ctx, "Z-score", 758, 648, `500 11.5px ${ROBOTO}`)
    const bar = ctx.createLinearGradient(721, 0, 793, 0)
    bar.addColorStop(0, zColor(-2.5))
    bar.addColorStop(0.5, zColor(0))
    bar.addColorStop(1, zColor(2.5))
    ctx.fillStyle = bar
    ctx.fillRect(721, 657, 72, 7)
    label(ctx, "-2.5", 721, 670, `8.5px ${ROBOTO}`, "#333")
    label(ctx, "0", 757, 670, `8.5px ${ROBOTO}`, "#333")
    label(ctx, "2.5", 793, 670, `8.5px ${ROBOTO}`, "#333")
  }
}

new Chart(document.getElementById("heatmap"), {
  type: "bar",
  data: {
    labels: sampleNames,
    datasets: geneNames.map((gene, col) => ({
      label: gene,
      data: sampleNames.map(() => 1),
      backgroundColor: zScores.map((row) => zColor(row[col])),
      barPercentage: 1,
      categoryPercentage: 1
    }))
  },
  options: {
    ...baseOptions({ left: 454, right: 5, top: 375, bottom: 2 }),
    indexAxis: "y",
    scales: {
      x: {
        stacked: true,
        min: 0,
        max: geneNames.length,
        grid: { display: false, drawTicks: false },
        border: { display: false },
        afterFit: (scale) => { scale.height = 38 },
        afterBuildTicks: (scale) => { scale.ticks = geneNames.map((_, i) => ({ value: i + 0.5 })) },
        ticks: {
          autoSkip: false,
          minRotation: 90,
          maxRotation: 90,
          padding: 2,
          color: "#222",
          font: { family: ARIAL, size: 7.5 },
          callback: (value, index) => geneNames[index]
        }
      },
      y: {
        stacked: true,
        position: "right",
        grid: { display: false, drawTicks: false },
        border: { display: false },
        afterFit: (scale) => { scale.width = 85 },
        ticks: {
          autoSkip: false,
          padding: 1,
          color: (ctx) => tissueColors[sampleTissue[ctx.index]],
          font: { family: ROBOTO, size: 8.8 }
        }
      }
    }
  },
  plugins: [heatmapDecor]
})
</script>
</body>
</html>
